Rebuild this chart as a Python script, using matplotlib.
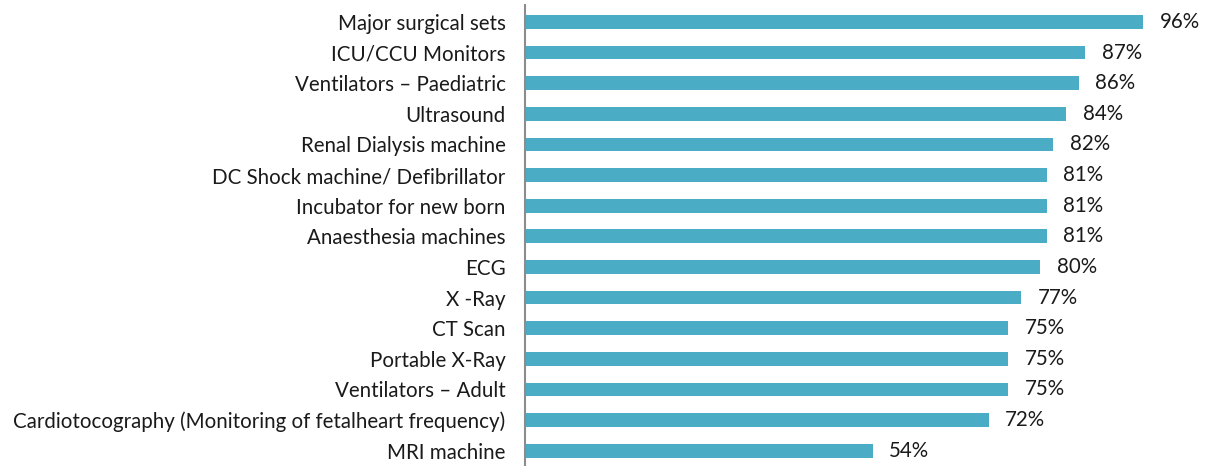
import matplotlib
matplotlib.use("Agg")
import matplotlib.pyplot as plt
from matplotlib import font_manager

categories = [
    "Major surgical sets",
    "ICU/CCU Monitors",
    "Ventilators \u2013 Paediatric",
    "Ultrasound",
    "Renal Dialysis machine",
    "DC Shock machine/ Defibrillator",
    "Incubator for new born",
    "Anaesthesia machines",
    "ECG",
    "X -Ray",
    "CT Scan",
    "Portable X-Ray",
    "Ventilators \u2013 Adult",
    "Cardiotocography (Monitoring of fetalheart frequency)",
    "MRI machine",
]
values = [96, 87, 86, 84, 82, 81, 81, 81, 80, 77, 75, 75, 75, 72, 54]

names = {f.name for f in font_manager.fontManager.ttflist}
family = "Lato" if "Lato" in names else "DejaVu Sans"
plt.rcParams["font.family"] = [family, "DejaVu Sans"]

bar_color = "#4BACC6"
text_color = "#1a1a1a"

fig = plt.figure(figsize=(12.16, 4.66), dpi=100)
ax = fig.add_axes([0.4317, 0.0, 0.5296, 0.989])

# size the labels so the longest category fits the space left of the axis
renderer = fig.canvas.get_renderer()
probe = fig.text(0, 0, max(categories, key=len), fontsize=15)
w = probe.get_window_extent(renderer).width
probe.remove()
fs = 15 * 493.0 / w

y = list(range(len(categories)))
ax.barh(y, values, height=0.45, color=bar_color)
ax.set_ylim(len(categories) - 0.5, -0.55)
ax.set_xlim(0, 100)

ax.set_yticks(y)
ax.set_yticklabels(categories, fontsize=fs, color=text_color)
ax.tick_params(axis="y", length=0, pad=14)
ax.set_xticks([])

for yi, v in zip(y, values):
    ax.annotate(f"{v}%", xy=(v, yi), xytext=(12, 0), textcoords="offset points",
                ha="left", va="center", fontsize=fs, color=text_color)

for side in ["top", "right", "bottom"]:
    ax.spines[side].set_visible(False)
ax.spines["left"].set_color("#8c8c8c")
ax.spines["left"].set_linewidth(1.5)

fig.savefig("out.png", dpi=100)
